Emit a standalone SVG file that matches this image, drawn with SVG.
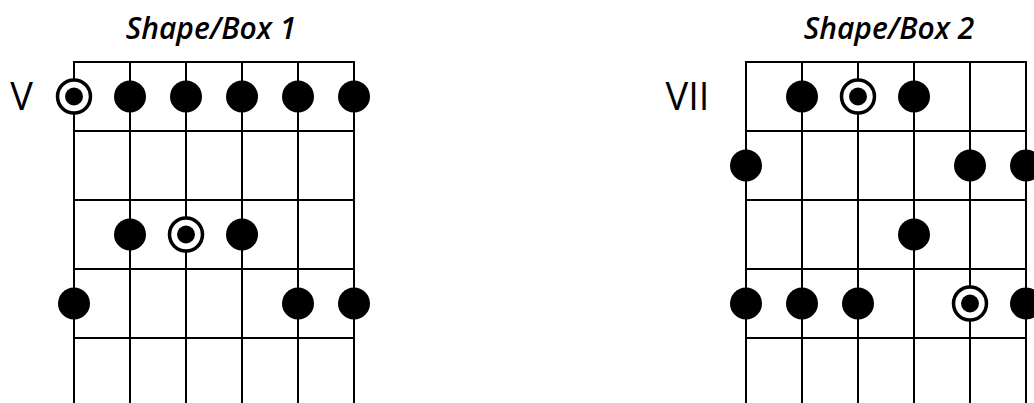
<svg xmlns="http://www.w3.org/2000/svg" width="1034" height="403" viewBox="0 0 1034 403">
  <defs>
    <style>
      .grid line { stroke: #000; stroke-width: 2; }
      .dot { fill: #000; }
      .ring { fill: #fff; stroke: #000; stroke-width: 3.5; }
      .title { font-family: "Open Sans", "Liberation Sans", sans-serif; font-style: italic; font-weight: 600; font-size: 30px; fill: #000; text-anchor: middle; }
      .pos { font-family: "Open Sans", "Liberation Sans", sans-serif; font-weight: 400; font-size: 38px; fill: #000; text-anchor: middle; }
    </style>
    <!-- fretboard grid: 6 strings, 56 px apart; frets 69 px apart -->
    <g id="fretboard" class="grid">
      <line x1="0" y1="0" x2="0" y2="403"/>
      <line x1="56" y1="0" x2="56" y2="403"/>
      <line x1="112" y1="0" x2="112" y2="403"/>
      <line x1="168" y1="0" x2="168" y2="403"/>
      <line x1="224" y1="0" x2="224" y2="403"/>
      <line x1="280" y1="0" x2="280" y2="403"/>
      <line x1="-1" y1="0" x2="281" y2="0"/>
      <line x1="-1" y1="69" x2="281" y2="69"/>
      <line x1="-1" y1="138" x2="281" y2="138"/>
      <line x1="-1" y1="207" x2="281" y2="207"/>
      <line x1="-1" y1="276" x2="281" y2="276"/>
    </g>
    <circle id="note" class="dot" r="16"/>
    <g id="root">
      <circle class="ring" r="16.5"/>
      <circle class="dot" r="9"/>
    </g>
  </defs>

  <!-- Shape/Box 1, position V -->
  <g id="box1">
    <text class="title" x="211" y="39">Shape/Box 1</text>
    <text class="pos" x="21.5" y="110">V</text>
    <use href="#fretboard" x="74" y="62"/>
    <use href="#root" x="74" y="96.5"/>
    <use href="#note" x="130" y="96.5"/>
    <use href="#note" x="186" y="96.5"/>
    <use href="#note" x="242" y="96.5"/>
    <use href="#note" x="298" y="96.5"/>
    <use href="#note" x="354" y="96.5"/>
    <use href="#note" x="130" y="234.5"/>
    <use href="#root" x="186" y="234.5"/>
    <use href="#note" x="242" y="234.5"/>
    <use href="#note" x="74" y="303.5"/>
    <use href="#note" x="298" y="303.5"/>
    <use href="#note" x="354" y="303.5"/>
  </g>

  <!-- Shape/Box 2, position VII -->
  <g id="box2">
    <text class="title" x="889" y="39">Shape/Box 2</text>
    <text class="pos" x="687.5" y="110">VII</text>
    <use href="#fretboard" x="746" y="62"/>
    <use href="#note" x="802" y="96.5"/>
    <use href="#root" x="858" y="96.5"/>
    <use href="#note" x="914" y="96.5"/>
    <use href="#note" x="746" y="165.5"/>
    <use href="#note" x="970" y="165.5"/>
    <use href="#note" x="1026" y="165.5"/>
    <use href="#note" x="914" y="234.5"/>
    <use href="#note" x="746" y="303.5"/>
    <use href="#note" x="802" y="303.5"/>
    <use href="#note" x="858" y="303.5"/>
    <use href="#root" x="970" y="303.5"/>
    <use href="#note" x="1026" y="303.5"/>
  </g>
</svg>
